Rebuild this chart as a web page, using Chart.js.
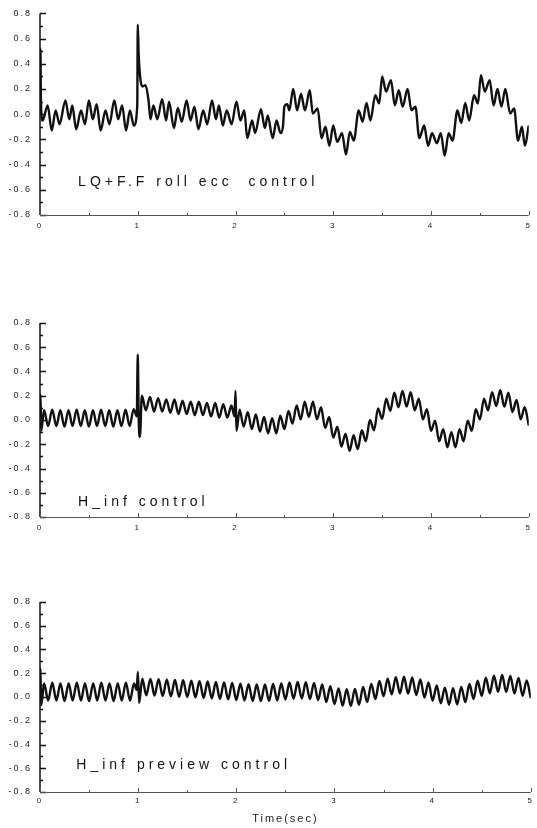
<!DOCTYPE html>
<html>
<head>
<meta charset="utf-8">
<title>Roll response</title>
<script src="https://cdn.jsdelivr.net/npm/chart.js@4.4.0/dist/chart.umd.min.js"></script>
<style>
  body { margin: 0; background: #fff; }
  .wrap { position: relative; width: 537px; height: 828px; }
  canvas { position: absolute; left: 0; }
</style>
</head>
<body>
<div class="wrap">
  <canvas id="lqChart" width="537" height="235" style="top:0"></canvas>
  <canvas id="hinfChart" width="537" height="240" style="top:300px"></canvas>
  <canvas id="previewChart" width="537" height="248" style="top:580px"></canvas>
</div>
<script>
// LQ + feed-forward roll eccentricity control
const lqTime = [
  0, 0.004, 0.01, 0.027, 0.078, 0.12, 0.16, 0.20, 0.26, 0.30, 0.33, 0.37, 0.42, 0.46, 0.50,
  0.54, 0.58, 0.62, 0.67, 0.71, 0.76, 0.80, 0.84, 0.88, 0.92, 0.96, 0.995, 1.0, 1.01, 1.03,
  1.05, 1.08, 1.11, 1.13, 1.16, 1.20, 1.25, 1.29, 1.32, 1.37, 1.41, 1.45, 1.50, 1.54, 1.58,
  1.62, 1.67, 1.71, 1.76, 1.80, 1.83, 1.87, 1.91, 1.96, 2.01, 2.05, 2.09, 2.12, 2.17, 2.20,
  2.26, 2.30, 2.33, 2.38, 2.42, 2.46, 2.485, 2.50, 2.53, 2.55, 2.59, 2.63, 2.67, 2.71, 2.76,
  2.79, 2.84, 2.88, 2.92, 2.96, 3.00, 3.04, 3.09, 3.13, 3.17, 3.21, 3.26, 3.30, 3.34, 3.38,
  3.43, 3.47, 3.50, 3.54, 3.59, 3.63, 3.67, 3.71, 3.76, 3.80, 3.84, 3.88, 3.93, 3.97, 4.01,
  4.06, 4.10, 4.14, 4.18, 4.22, 4.27, 4.31, 4.35, 4.39, 4.44, 4.48, 4.51, 4.55, 4.60, 4.64,
  4.68, 4.72, 4.76, 4.81, 4.85, 4.89, 4.93, 4.96, 5.00
];
const lqRoll = [
  0, 0.52, 0.085, -0.05, 0.07, -0.13, 0.03, -0.08, 0.11, -0.04, 0.07, -0.12, 0.03, -0.08, 0.11,
  -0.04, 0.08, -0.13, 0.03, -0.08, 0.11, -0.04, 0.07, -0.13, 0.03, -0.09, 0.07, 0.71, 0.46, 0.26,
  0.22, 0.23, 0.11, -0.04, 0.07, -0.04, 0.12, -0.05, 0.10, -0.11, 0.05, -0.06, 0.11, -0.05, 0.06,
  -0.12, 0.03, -0.08, 0.11, -0.04, 0.07, -0.09, 0.03, -0.08, 0.10, -0.05, 0.03, -0.19, -0.05, -0.15,
  0.04, -0.11, -0.01, -0.19, -0.05, -0.15, -0.10, 0.06, 0.08, 0.03, 0.20, 0.03, 0.16, 0.03, 0.19,
  0.005, 0.045, -0.19, -0.10, -0.25, -0.09, -0.22, -0.15, -0.32, -0.14, -0.21, 0.03, -0.06, 0.09, -0.05,
  0.15, 0.085, 0.30, 0.18, 0.27, 0.07, 0.19, 0.06, 0.20, 0.03, 0.06, -0.19, -0.09, -0.25, -0.15,
  -0.23, -0.15, -0.33, -0.15, -0.21, 0.03, -0.07, 0.09, -0.05, 0.15, 0.085, 0.31, 0.18, 0.27, 0.07,
  0.20, 0.06, 0.20, 0.005, 0.045, -0.21, -0.10, -0.25, -0.09
];

// H-infinity control
const hinfTime = [
  0, 0.005, 0.012,
  0.042, 0.083, 0.125, 0.167, 0.208, 0.25, 0.292, 0.333, 0.375, 0.417, 0.458, 0.5,
  0.542, 0.583, 0.625, 0.667, 0.708, 0.75, 0.792, 0.833, 0.875, 0.917, 0.958,
  0.99, 1.0, 1.01, 1.022,
  1.042, 1.083, 1.125, 1.167, 1.208, 1.25, 1.292, 1.333, 1.375, 1.417, 1.458, 1.5,
  1.542, 1.583, 1.625, 1.667, 1.708, 1.75, 1.792, 1.833, 1.875, 1.917, 1.958,
  1.99, 2.0, 2.01,
  2.042, 2.083, 2.125, 2.167, 2.208, 2.25, 2.292, 2.333, 2.375, 2.417, 2.458, 2.5,
  2.542, 2.583, 2.625, 2.667, 2.708, 2.75, 2.792, 2.833, 2.875, 2.917, 2.958, 3.0,
  3.042, 3.083, 3.125, 3.167, 3.208, 3.25, 3.292, 3.333, 3.375, 3.417, 3.458, 3.5,
  3.542, 3.583, 3.625, 3.667, 3.708, 3.75, 3.792, 3.833, 3.875, 3.917, 3.958, 4.0,
  4.042, 4.083, 4.125, 4.167, 4.208, 4.25, 4.292, 4.333, 4.375, 4.417, 4.458, 4.5,
  4.542, 4.583, 4.625, 4.667, 4.708, 4.75, 4.792, 4.833, 4.875, 4.917, 4.958, 5.0
];
const hinfRoll = [
  0, 0.21, -0.09,
  0.08, -0.05, 0.085, -0.05, 0.08, -0.055, 0.08, -0.05, 0.085, -0.05, 0.08, -0.055,
  0.08, -0.05, 0.085, -0.05, 0.08, -0.055, 0.08, -0.05, 0.085, -0.05, 0.09,
  0.03, 0.54, 0.0, -0.14,
  0.20, 0.08, 0.19, 0.07, 0.18, 0.07, 0.17, 0.06, 0.17, 0.05, 0.16, 0.05,
  0.15, 0.04, 0.15, 0.04, 0.14, 0.03, 0.14, 0.02, 0.13, 0.02, 0.12,
  0.03, 0.24, -0.09,
  0.085, -0.055, 0.065, -0.075, 0.045, -0.095, 0.025, -0.11, 0.015, -0.11, 0.035, -0.075,
  0.075, -0.03, 0.12, 0.005, 0.15, 0.025, 0.15, 0.005, 0.105, -0.065, 0.025, -0.145,
  -0.055, -0.22, -0.115, -0.255, -0.125, -0.24, -0.085, -0.175, 0.0, -0.085, 0.095, 0.01,
  0.175, 0.075, 0.225, 0.105, 0.24, 0.11, 0.23, 0.08, 0.175, 0.005, 0.09, -0.09,
  -0.005, -0.175, -0.075, -0.225, -0.10, -0.225, -0.075, -0.175, -0.005, -0.09, 0.09, 0.005,
  0.175, 0.08, 0.23, 0.115, 0.245, 0.11, 0.225, 0.065, 0.165, 0.005, 0.105, -0.045
];

// H-infinity preview control
const previewTime = [
  0, 0.004, 0.012,
  0.042, 0.083, 0.125, 0.167, 0.208, 0.25, 0.292, 0.333, 0.375, 0.417, 0.458, 0.5,
  0.542, 0.583, 0.625, 0.667, 0.708, 0.75, 0.792, 0.833, 0.875, 0.917, 0.958,
  0.985, 0.997, 1.01,
  1.042, 1.083, 1.125, 1.167, 1.208, 1.25, 1.292, 1.333, 1.375, 1.417, 1.458, 1.5,
  1.542, 1.583, 1.625, 1.667, 1.708, 1.75, 1.792, 1.833, 1.875, 1.917, 1.958, 2.0,
  2.042, 2.083, 2.125, 2.167, 2.208, 2.25, 2.292, 2.333, 2.375, 2.417, 2.458, 2.5,
  2.542, 2.583, 2.625, 2.667, 2.708, 2.75, 2.792, 2.833, 2.875, 2.917, 2.958, 3.0,
  3.042, 3.083, 3.125, 3.167, 3.208, 3.25, 3.292, 3.333, 3.375, 3.417, 3.458, 3.5,
  3.542, 3.583, 3.625, 3.667, 3.708, 3.75, 3.792, 3.833, 3.875, 3.917, 3.958, 4.0,
  4.042, 4.083, 4.125, 4.167, 4.208, 4.25, 4.292, 4.333, 4.375, 4.417, 4.458, 4.5,
  4.542, 4.583, 4.625, 4.667, 4.708, 4.75, 4.792, 4.833, 4.875, 4.917, 4.958, 5.0
];
const previewRoll = [
  0.05, 0.24, -0.07,
  0.115, -0.03, 0.12, -0.03, 0.115, -0.035, 0.115, -0.03, 0.12, -0.03, 0.115, -0.035,
  0.115, -0.03, 0.12, -0.03, 0.115, -0.035, 0.115, -0.03, 0.12, -0.03, 0.115,
  0.06, 0.21, -0.05,
  0.155, 0.014, 0.153, 0.012, 0.15, 0.008, 0.146, 0.005, 0.143, 0.002, 0.141, 0.0,
  0.138, -0.004, 0.134, -0.008, 0.13, -0.012, 0.126, -0.016, 0.122, -0.02, 0.118, -0.025,
  0.113, -0.03, 0.108, -0.034, 0.105, -0.035, 0.106, -0.033, 0.109, -0.029, 0.115, -0.021,
  0.122, -0.015, 0.126, -0.014, 0.125, -0.017, 0.119, -0.027, 0.106, -0.042, 0.09, -0.059,
  0.073, -0.073, 0.065, -0.075, 0.068, -0.065, 0.085, -0.043, 0.11, -0.017, 0.135, 0.006,
  0.155, 0.022, 0.167, 0.03, 0.17, 0.029, 0.165, 0.017, 0.147, -0.005, 0.122, -0.031,
  0.097, -0.054, 0.079, -0.065, 0.075, -0.062, 0.085, -0.044, 0.109, -0.017, 0.137, 0.01,
  0.162, 0.032, 0.179, 0.044, 0.185, 0.043, 0.178, 0.03, 0.16, 0.01, 0.14, -0.01
];

Chart.defaults.font.family = '"Liberation Sans", Arial, sans-serif';
Chart.defaults.color = '#222';

// left axis with inward ticks, bare time axis with small marks, caption inside the plot
const plotFrame = {
  id: 'plotFrame',
  beforeDraw(chart) {
    chart.ctx.letterSpacing = '2px';
  },
  afterDraw(chart, args, opts) {
    const { ctx, chartArea: a, scales: { x, y } } = chart;
    ctx.save();
    ctx.strokeStyle = '#111';
    ctx.lineWidth = 1.5;
    ctx.beginPath();
    ctx.moveTo(a.left, a.top);
    ctx.lineTo(a.left, a.bottom);
    for (let i = -8; i <= 8; i++) {
      const py = Math.round(y.getPixelForValue(i / 10)) + 0.5;
      ctx.moveTo(a.left, py);
      ctx.lineTo(a.left + (i % 2 === 0 ? 6 : 3), py);
    }
    ctx.stroke();

    ctx.strokeStyle = '#555';
    ctx.lineWidth = 1;
    ctx.beginPath();
    ctx.moveTo(a.left, a.bottom + 0.5);
    ctx.lineTo(a.right, a.bottom + 0.5);
    for (let i = 0; i <= 10; i++) {
      const px = Math.round(x.getPixelForValue(i / 2)) + 0.5;
      ctx.moveTo(px, a.bottom);
      ctx.lineTo(px, a.bottom - (i % 2 === 0 ? 4 : 2));
    }
    ctx.stroke();

    ctx.fillStyle = '#111';
    ctx.font = '14px "Liberation Sans", Arial, sans-serif';
    ctx.letterSpacing = '4px';
    ctx.textBaseline = 'middle';
    ctx.fillText(opts.caption, x.getPixelForValue(opts.at[0]), y.getPixelForValue(opts.at[1]));
    ctx.restore();
  }
};

function drawPanel(id, times, values, caption, captionAt, topPad, axisHeight, tickPad, withTitle) {
  return new Chart(document.getElementById(id), {
    type: 'line',
    data: {
      datasets: [{
        data: times.map((t, i) => ({ x: t, y: values[i] })),
        borderColor: '#111',
        borderWidth: 2.4,
        pointRadius: 0,
        cubicInterpolationMode: 'monotone',
        fill: false
      }]
    },
    options: {
      responsive: false,
      animation: false,
      devicePixelRatio: 1,
      layout: { padding: { top: topPad, right: 6, left: 0, bottom: 0 } },
      plugins: {
        legend: { display: false },
        tooltip: { enabled: false },
        plotFrame: { caption: caption, at: captionAt }
      },
      scales: {
        x: {
          type: 'linear',
          min: 0,
          max: 5,
          grid: { display: false, drawTicks: false },
          border: { display: false },
          ticks: { stepSize: 1, padding: tickPad, font: { size: 8 } },
          title: { display: withTitle, text: 'Time(sec)', font: { size: 11 }, padding: { top: 0, bottom: 2 } },
          afterFit(s) { s.height = axisHeight; }
        },
        y: {
          min: -0.8,
          max: 0.8,
          grid: { display: false, drawTicks: false },
          border: { display: false },
          ticks: {
            stepSize: 0.2,
            padding: 8,
            font: { size: 9 },
            callback: v => Math.abs(v) < 1e-9 ? '0.0' : v.toFixed(1)
          },
          afterFit(s) { s.width = 40; }
        }
      }
    },
    plugins: [plotFrame]
  });
}

drawPanel('lqChart', lqTime, lqRoll, 'LQ+F.F roll ecc  control', [0.39, -0.54], 13, 20, 6, false);
drawPanel('hinfChart', hinfTime, hinfRoll, 'H_inf control', [0.39, -0.68], 23, 23, 6, false);
drawPanel('previewChart', previewTime, previewRoll, 'H_inf preview control', [0.37, -0.57], 22, 36, 4, true);
</script>
</body>
</html>
